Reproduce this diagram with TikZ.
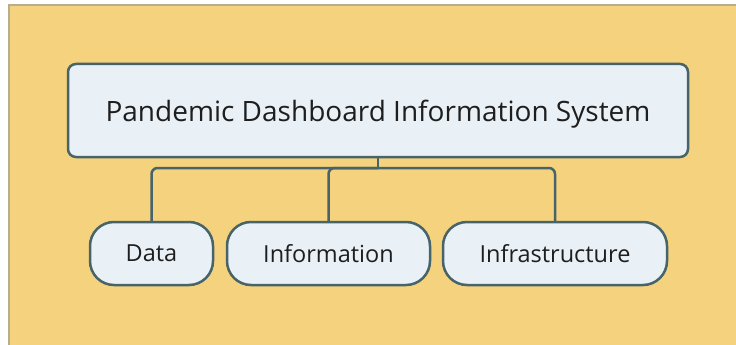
\documentclass[tikz,border=0pt]{standalone}
\usepackage{fontspec}
\setmainfont{Open Sans}
\usetikzlibrary{positioning}
\definecolor{backdrop}{HTML}{F4D27E}
\definecolor{frameline}{HTML}{B9AE8C}
\definecolor{boxfill}{HTML}{E9F1F7}
\definecolor{boxline}{HTML}{46646A}
\definecolor{ink}{HTML}{1E1E1E}
\tikzset{
  sysbox/.style={draw=boxline, fill=boxfill, line width=2.5pt, rounded corners=8pt,
    minimum width=620pt, minimum height=93pt, text=ink, text depth=0pt,
    font=\fontsize{28}{33}\selectfont},
  partbox/.style={draw=boxline, fill=boxfill, line width=2.5pt, rounded corners=24pt,
    minimum height=63pt, text=ink, font=\fontsize{23.5}{28}\selectfont},
  link/.style={draw=boxline, line width=2.5pt, rounded corners=6pt}
}

\begin{document}
\begin{tikzpicture}[x=1pt,y=-1pt]
  \useasboundingbox (0,0) rectangle (736,345);
  % background panel
  \fill[white] (0,0) rectangle (736,345);
  \fill[backdrop] (9,5) rectangle (736,345);
  \draw[frameline, line width=1.5pt] (9,345) -- (9,5) -- (736,5);

  \node[sysbox] (sys) at (378,110.5) {Pandemic Dashboard Information System};

  \node[partbox, minimum width=123pt] (data) at (151.5,253.5) {Data};
  \node[partbox, minimum width=203pt] (info) at (328.5,253.5) {Information};
  \node[partbox, minimum width=224pt] (infra) at (555,253.5) {Infrastructure};

  \coordinate (bus) at (378,168);
  \draw[link] (sys.south) -- (bus);
  \draw[link] (data.north) |- (bus);
  \draw[link] (info.north) |- (bus);
  \draw[link] (infra.north) |- (bus);
\end{tikzpicture}
\end{document}
